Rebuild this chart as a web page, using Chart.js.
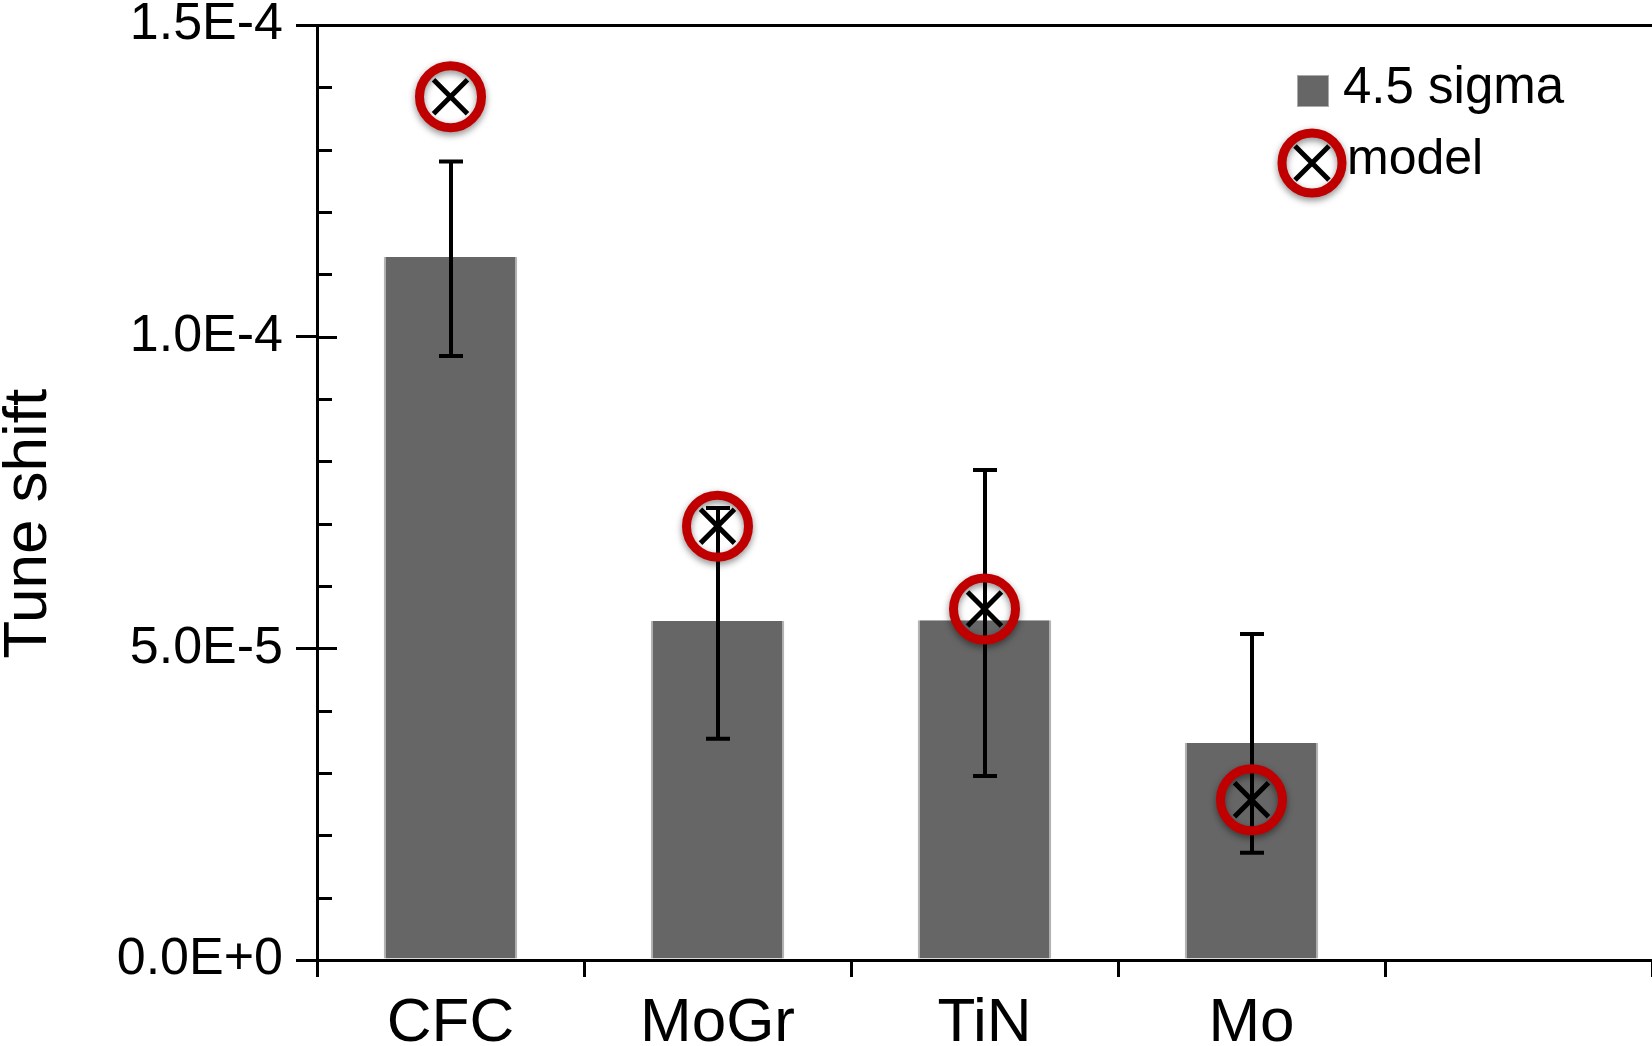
<!DOCTYPE html>
<html>
<head>
<meta charset="utf-8">
<script src="https://cdn.jsdelivr.net/npm/chart.js@4.4.1/dist/chart.umd.min.js"></script>
<style>
  html, body { margin: 0; padding: 0; background: #fff; }
  #wrap { width: 1652px; height: 1046px; position: relative; }
</style>
</head>
<body>
<div id="wrap"><canvas id="tuneChart"></canvas></div>
<script>
// values
const categories = ['CFC', 'MoGr', 'TiN', 'Mo', ''];
const sigmaValues = [1.128e-4, 5.44e-5, 5.45e-5, 3.48e-5, null];
const errLow = [9.69e-5, 3.55e-5, 2.95e-5, 1.72e-5, null];
const errHigh = [1.281e-4, 7.25e-5, 7.86e-5, 5.23e-5, null];
const modelValues = [1.385e-4, 6.96e-5, 5.63e-5, 2.57e-5, null];
const legendLabels = ['4.5 sigma', 'model'];
const yTitle = 'Tune shift';

const FONT = "'Liberation Sans', Arial, sans-serif";
Chart.defaults.font.family = FONT;
Chart.defaults.color = '#000';

const RED = '#c00000';
const BAR = '#666666';

// error bars, drawn right after the bars
const errorBars = {
  id: 'errorBars',
  afterDatasetDraw(chart, args) {
    if (args.index !== 0) return;
    const ctx = chart.ctx, y = chart.scales.y;
    ctx.save();
    ctx.strokeStyle = '#000';
    ctx.lineWidth = 4;
    args.meta.data.forEach((bar, i) => {
      if (errLow[i] == null) return;
      const x = Math.round(bar.x);
      const lo = y.getPixelForValue(errLow[i]);
      const hi = y.getPixelForValue(errHigh[i]);
      ctx.beginPath();
      ctx.moveTo(x, lo); ctx.lineTo(x, hi);
      ctx.moveTo(x - 12, lo); ctx.lineTo(x + 12, lo);
      ctx.moveTo(x - 12, hi); ctx.lineTo(x + 12, hi);
      ctx.stroke();
    });
    ctx.restore();
  }
};

// soft shadow under the red rings
const ringShadow = {
  id: 'ringShadow',
  beforeDatasetDraw(chart, args) {
    if (args.index !== 1) return;
    const ctx = chart.ctx;
    ctx.save();
    ctx.shadowColor = 'rgba(0,0,0,0.45)';
    ctx.shadowBlur = 7;
    ctx.shadowOffsetY = 3;
  },
  afterDatasetDraw(chart, args) {
    if (args.index === 1) chart.ctx.restore();
  }
};

// minor/major ticks on the inner side of the y axis + axis title
const yAxisExtras = {
  id: 'yAxisExtras',
  afterDraw(chart) {
    const ctx = chart.ctx, y = chart.scales.y, left = chart.chartArea.left;
    ctx.save();
    ctx.strokeStyle = '#000';
    ctx.lineWidth = 3;
    y.ticks.forEach((t, i) => {
      const py = Math.round(y.getPixelForValue(t.value)) + 0.5;
      ctx.beginPath();
      ctx.moveTo(left, py);
      ctx.lineTo(left + (i % 5 === 0 ? 20 : 15), py);
      ctx.stroke();
    });
    // title sits a little below the middle of the axis
    ctx.translate(29, y.getPixelForValue(7.0e-5));
    ctx.rotate(-Math.PI / 2);
    ctx.fillStyle = '#000';
    ctx.font = '62px ' + FONT;
    ctx.textAlign = 'center';
    ctx.textBaseline = 'middle';
    ctx.fillText(yTitle, 0, 0);
    ctx.restore();
  }
};

// legend sitting in the top right corner of the plot
const cornerLegend = {
  id: 'cornerLegend',
  afterDraw(chart) {
    const ctx = chart.ctx;
    const x0 = chart.chartArea.right - 355;
    const y0 = chart.chartArea.top + 50;
    ctx.save();
    ctx.fillStyle = BAR;
    ctx.fillRect(x0, y0, 32, 32);
    ctx.strokeStyle = '#aaa';
    ctx.lineWidth = 1;
    ctx.strokeRect(x0 + 0.5, y0 + 0.5, 31, 31);

    const cx = x0 + 15, cy = y0 + 88;
    ctx.save();
    ctx.shadowColor = 'rgba(0,0,0,0.45)';
    ctx.shadowBlur = 7;
    ctx.shadowOffsetY = 3;
    ctx.strokeStyle = RED;
    ctx.lineWidth = 9;
    ctx.beginPath();
    ctx.arc(cx, cy, 30, 0, Math.PI * 2);
    ctx.stroke();
    ctx.restore();
    ctx.strokeStyle = '#000';
    ctx.lineWidth = 5;
    ctx.beginPath();
    ctx.moveTo(cx - 17, cy - 17); ctx.lineTo(cx + 17, cy + 17);
    ctx.moveTo(cx - 17, cy + 17); ctx.lineTo(cx + 17, cy - 17);
    ctx.stroke();

    ctx.fillStyle = '#000';
    ctx.textBaseline = 'middle';
    ctx.textAlign = 'left';
    ctx.font = '51px ' + FONT;
    ctx.fillText(legendLabels[0], x0 + 46, y0 + 14);
    ctx.font = '50px ' + FONT;
    ctx.fillText(legendLabels[1], x0 + 50, y0 + 85);
    ctx.restore();
  }
};

new Chart(document.getElementById('tuneChart'), {
  type: 'bar',
  data: {
    labels: categories,
    datasets: [
      {
        label: legendLabels[0],
        data: sigmaValues,
        backgroundColor: BAR,
        borderColor: '#b4b4b4',
        borderWidth: { left: 2, right: 2, top: 0, bottom: 0 },
        barPercentage: 0.5,
        categoryPercentage: 1,
        order: 3
      },
      {
        type: 'line',
        label: legendLabels[1],
        data: modelValues,
        showLine: false,
        pointStyle: 'circle',
        pointRadius: 31,
        pointBorderWidth: 9,
        pointBorderColor: RED,
        pointBackgroundColor: 'rgba(0,0,0,0)',
        order: 2
      },
      {
        type: 'line',
        label: 'model cross',
        data: modelValues,
        showLine: false,
        pointStyle: 'crossRot',
        pointRadius: 24,
        pointBorderWidth: 5,
        pointBorderColor: '#000',
        order: 1
      }
    ]
  },
  options: {
    responsive: true,
    maintainAspectRatio: false,
    animation: false,
    events: [],
    layout: { autoPadding: false, padding: { top: 25, left: 0, right: 0, bottom: 0 } },
    plugins: {
      legend: { display: false },
      tooltip: { enabled: false }
    },
    scales: {
      x: {
        grid: { offset: true, drawOnChartArea: false, tickLength: 17, color: '#000', lineWidth: 3 },
        border: { color: '#000', width: 3 },
        ticks: { font: { size: 62 }, padding: 10, color: '#000', maxRotation: 0, autoSkip: false },
        afterFit(scale) { scale.height = 86; }
      },
      xTop: {
        type: 'category',
        position: 'top',
        labels: categories,
        grid: { display: false, drawTicks: false },
        border: { color: '#000', width: 3 },
        ticks: { display: false },
        afterFit(scale) { scale.height = 0; }
      },
      y: {
        min: 0,
        max: 1.5e-4,
        ticks: {
          stepSize: 1e-5,
          maxTicksLimit: 20,
          autoSkip: false,
          padding: 13,
          color: '#000',
          // small line height so the top label does not push the plot down
          font: { size: 52, lineHeight: 0.45 },
          callback: (v, i) => i % 5 === 0 ? v.toExponential(1).toUpperCase() : ''
        },
        grid: {
          drawOnChartArea: false,
          tickLength: 21,
          lineWidth: 3,
          color: ctx => ctx.index % 5 === 0 ? '#000' : 'rgba(0,0,0,0)'
        },
        border: { color: '#000', width: 3 },
        afterFit(scale) { scale.width = 317; }
      }
    }
  },
  plugins: [errorBars, ringShadow, yAxisExtras, cornerLegend]
});
</script>
</body>
</html>
